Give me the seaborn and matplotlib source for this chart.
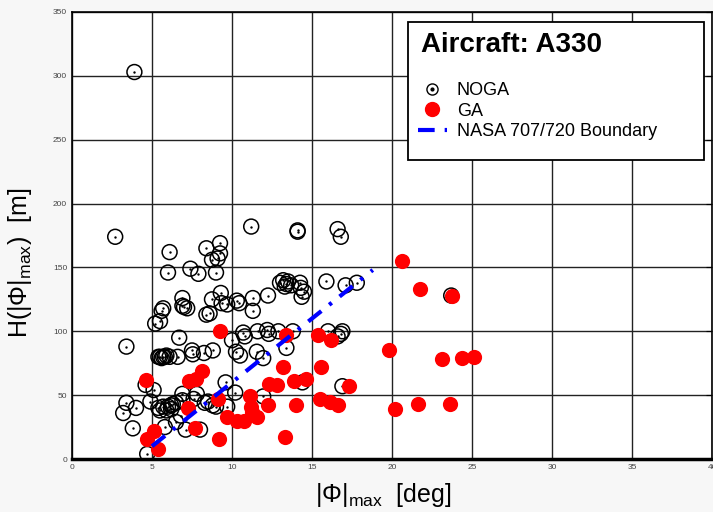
import matplotlib
matplotlib.use("Agg")
import matplotlib.pyplot as plt
import seaborn as sns
from matplotlib.lines import Line2D
from matplotlib.patches import Rectangle
from matplotlib.legend_handler import HandlerTuple

# NOGA events (open circles): |Phi|max [deg], H [m]
noga_x = [3.9, 2.7, 6.1, 8.4, 9.25, 9.25, 8.75, 9.1, 9.0, 11.2, 14.1, 14.1, 16.6, 16.8, 6.0, 7.4, 7.9,
          5.2, 5.5, 5.6, 5.7, 6.9, 6.9, 7.0, 7.2, 8.4, 8.6, 8.75, 9.3, 9.35, 9.7, 10.3, 10.45, 11.3, 11.3,
          12.25, 13.0, 13.2, 13.4, 13.5, 13.3, 13.7, 14.25, 14.3, 14.35, 14.5, 15.9, 17.1, 17.8, 23.7,
          10.0, 10.7, 10.8, 11.6, 12.2, 12.3, 12.9, 13.8, 16.0, 16.6, 16.9, 16.8, 13.4,
          3.4, 5.4, 5.5, 5.6, 5.7, 5.8, 5.9, 6.1, 6.6, 6.7, 7.5, 7.55, 8.25, 8.8, 10.25, 10.5, 11.55, 11.95,
          3.2, 3.4, 4.0, 3.8, 4.7, 4.9, 5.1, 4.6, 5.4, 5.5, 5.7, 6.0, 6.2, 6.3, 6.5, 6.2, 5.9, 6.9, 6.5,
          6.8, 5.8, 7.1, 6.9, 7.8, 7.6, 8.0, 8.5, 8.8, 9.0, 9.7, 9.6, 8.3, 10.2, 11.95, 14.4, 16.9]
noga_y = [303, 174, 162, 165, 169, 161, 156, 157, 146, 182, 179, 178, 180, 174, 146, 149, 145,
          106, 108, 116, 118, 126, 120, 119, 118, 113, 114, 125, 130, 122, 121, 124, 122, 126, 116,
          128, 138, 140, 137, 139, 135, 136, 138, 134, 127, 131, 139, 136, 138, 128,
          93, 99, 96, 100, 101, 98, 100, 100, 100, 96, 100, 98, 87,
          88, 80, 80, 79, 80, 80, 81, 80, 80, 95, 85, 82, 83, 85, 84, 81, 84, 79,
          36, 44, 40, 24, 4, 45, 54, 58, 40, 38, 41, 41, 42, 43, 44, 39, 38, 46, 29,
          34, 25, 23, 51, 51, 47, 23, 45, 42, 41, 41, 60, 44, 52, 49, 60, 57]

# GA events (filled red)
ga_x = [4.6, 4.7, 5.1, 5.4, 7.25, 7.3, 7.75, 8.1, 7.7, 9.25, 9.1, 9.2, 9.7, 10.3, 10.75, 11.1, 11.2,
        11.25, 11.55, 12.25, 12.3, 12.8, 13.2, 13.4, 13.3, 13.9, 14.0, 14.6, 15.4, 16.2, 15.55, 15.5,
        16.1, 16.6, 17.3, 20.6, 21.75, 23.75, 19.8, 23.1, 24.4, 25.1, 20.2, 21.6, 23.6]
ga_y = [62, 16, 22, 8, 40, 61, 63, 69, 24, 100, 47, 16, 33, 30, 30, 49, 41,
        37, 33, 42, 59, 58, 72, 97, 17, 61, 42, 63, 97, 93, 72, 47,
        45, 42, 57, 155, 133, 128, 85, 78, 79, 80, 39, 43, 43]

# NASA 707/720 boundary
boundary_x = [5.0, 18.8]
boundary_y = [10.0, 148.0]

sns.set_style("white")
plt.rcParams['font.family'] = ['Liberation Sans', 'DejaVu Sans']
plt.rcParams['text.color'] = 'black'
plt.rcParams['axes.labelcolor'] = 'black'
plt.rcParams['mathtext.fontset'] = 'custom'
plt.rcParams['mathtext.rm'] = 'Liberation Sans'
plt.rcParams['mathtext.it'] = 'Liberation Sans'

W, H = 713, 512
fig = plt.figure(figsize=(W / 100, H / 100), dpi=100, facecolor='#f7f7f7')
ax = fig.add_axes([72 / W, 1 - 459 / H, 640 / W, 447 / H])
ax.set_facecolor('white')

nasa_ls = (0, (4, 2.4, 0.8, 2.4))

sns.scatterplot(x=noga_x, y=noga_y, ax=ax, marker='o', s=115, facecolors='none',
                edgecolor='black', linewidth=1.1, zorder=3)
sns.scatterplot(x=noga_x, y=noga_y, ax=ax, marker='o', s=3, color='black',
                linewidth=0, zorder=3)
sns.scatterplot(x=ga_x, y=ga_y, ax=ax, marker='o', s=120, color='red',
                linewidth=0, zorder=4)
sns.lineplot(x=boundary_x, y=boundary_y, ax=ax, color='blue', lw=3,
             linestyle=nasa_ls, zorder=5)

ax.set_xlim(0, 40)
ax.set_ylim(0, 350)
ax.set_xticks(range(0, 41, 5))
ax.set_yticks(range(0, 351, 50))
ax.tick_params(labelsize=6, direction='in', length=4, right=True, colors='black')
ax.tick_params(labelcolor='#444')
ax.grid(True, color='#222', lw=1)
for side, sp in ax.spines.items():
    sp.set_color('black')
    sp.set_linewidth(1.2)
ax.spines['bottom'].set_linewidth(2.5)

ax.set_xlabel(r'$|\Phi|_{\mathrm{max}}$  [deg]', fontsize=18)
ax.set_ylabel(r'H($|\Phi|_{\mathrm{max}}$)  [m]', fontsize=18)
ax.xaxis.set_label_coords(0.486, -0.05)
ax.yaxis.set_label_coords(-0.06, 0.44)

# legend box
fig.add_artist(Rectangle((408 / W, 1 - 160 / H), 296 / W, 138 / H, transform=fig.transFigure,
                         facecolor='white', edgecolor='black', lw=1.3, zorder=2))
fig.text(421 / W, 1 - 45 / H, 'Aircraft: A330', fontsize=20, fontweight='bold',
         va='center', ha='left', zorder=3)

h_noga = (Line2D([], [], marker='o', ls='none', ms=8, mfc='none', mec='black', mew=1),
          Line2D([], [], marker='o', ls='none', ms=2, color='black'))
h_ga = Line2D([], [], marker='o', ls='none', ms=10, color='red')
h_nasa = Line2D([], [], color='blue', lw=3, ls=nasa_ls)
leg = fig.legend([h_noga, h_ga, h_nasa], ['NOGA', 'GA', 'NASA 707/720 Boundary'],
                 loc='upper left', bbox_to_anchor=(418 / W, 1 - 82 / H), frameon=False,
                 fontsize=13, handlelength=1.6, handletextpad=0.55, labelspacing=0.2,
                 borderpad=0, borderaxespad=0, handler_map={tuple: HandlerTuple(ndivide=1)})
leg.set_zorder(4)

fig.savefig('out.png', dpi=100, facecolor=fig.get_facecolor())
